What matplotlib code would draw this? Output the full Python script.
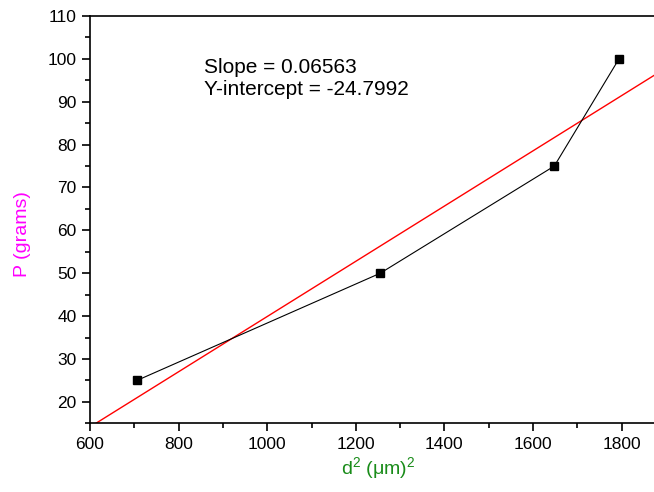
import matplotlib
matplotlib.use('Agg')
import matplotlib.pyplot as plt
from matplotlib.ticker import MultipleLocator
import numpy as np

plt.rcParams['font.family'] = ['Liberation Sans', 'DejaVu Sans']
plt.rcParams['mathtext.fontset'] = 'custom'
plt.rcParams['mathtext.rm'] = 'Liberation Sans'
plt.rcParams['mathtext.it'] = 'Liberation Sans'

# data
d2 = [706, 1255, 1648, 1794]
load = [25, 50, 75, 100]
slope_txt = 'Slope = 0.06563'
icpt_txt = 'Y-intercept = -24.7992'

fig = plt.figure(figsize=(6.54, 4.92), dpi=100)
ax = fig.add_axes([0.1376, 0.1396, 0.8624, 0.8279])

# linear fit line
k, b = np.polyfit(d2, load, 1)
xf = np.array([600, 1880])
ax.plot(xf, k * xf + b, color='red', lw=1.0)

ax.plot(d2, load, color='black', lw=0.8, marker='s', ms=5.8, mfc='black', mec='black')

ax.set_xlim(600, 1873)
ax.set_ylim(15, 110)
ax.xaxis.set_major_locator(MultipleLocator(200))
ax.xaxis.set_minor_locator(MultipleLocator(100))
ax.yaxis.set_major_locator(MultipleLocator(10))
ax.yaxis.set_minor_locator(MultipleLocator(5))
ax.tick_params(which='both', direction='out', width=1.2, labelsize=12.5)
ax.tick_params(which='major', length=6)
ax.tick_params(which='minor', length=3.5)
ax.spines['right'].set_visible(False)
for s in ['left', 'bottom', 'top']:
    ax.spines[s].set_linewidth(1.2)

ax.text(857, 98.1, slope_txt, fontsize=15, va='center', ha='left')
ax.text(857, 92.8, icpt_txt, fontsize=15, va='center', ha='left')

ax.set_xlabel('d$^2$ (μm)$^2$', color='#1a8c1a', fontsize=14)
ax.xaxis.set_label_coords(0.51, -0.11)
ax.xaxis.label.set_va('center')
ax.set_ylabel('P (grams)', color='#ff00ff', fontsize=14)
ax.yaxis.set_label_coords(-0.12, 0.465)
ax.yaxis.label.set_va('center')

fig.savefig('out.png', dpi=100)
